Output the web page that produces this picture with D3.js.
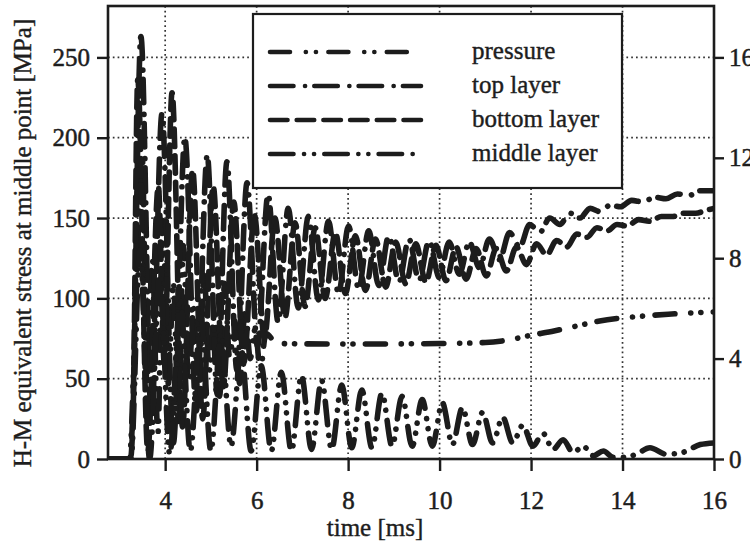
<!DOCTYPE html>
<html>
<head>
<meta charset="utf-8">
<script src="https://cdn.jsdelivr.net/npm/d3@7"></script>
<style>
  html, body { margin: 0; padding: 0; background: #fff; }
  svg { display: block; }
  text { font-family: "Liberation Serif", "Times New Roman", serif; fill: #1e1e1e; }
</style>
</head>
<body>
<svg id="chart" width="750" height="545"></svg>
<script>
// ---------- data ----------
const xTicks = [4, 6, 8, 10, 12, 14, 16];
const yLeftTicks = [0, 50, 100, 150, 200, 250];
const yRightTicks = [0, 4, 8, 12, 16];
const seriesNames = ["pressure", "top layer", "bottom layer", "middle layer"];

// pressure, right axis units
const pressure = [[2.75,0],[3.22,0],[3.32,4],[3.5,12],[3.6,3],[3.72,8],[3.84,1],[3.95,9.5],[4.07,3],[4.18,7],[4.29,1.5],[4.4,8.5],[4.51,3],[4.62,6],[4.73,2],[4.85,7.5],[4.96,3.5],[5.08,6],[5.19,2.5],[5.3,7],[5.41,4],[5.52,5.5],[5.63,3],[5.75,6],[5.86,4],[5.97,5.2],[6.08,3.5],[6.2,5],[6.45,4.6],[8,4.58],[10,4.6],[11,4.64],[11.5,4.74],[12,4.93],[12.5,5.1],[13,5.3],[13.5,5.5],[14,5.62],[14.5,5.7],[15,5.77],[15.5,5.82],[16,5.86]];

// stresses, left axis [MPa]
const topLayer = [[2.75,0],[3.22,0],[3.28,20],[3.47,263],[3.7,25],[3.93,215],[4.18,10],[4.43,200],[4.68,30],[4.92,189],[5.14,40],[5.35,185],[5.57,55],[5.79,172],[6.02,70],[6.25,165],[6.47,85],[6.69,156],[6.91,94],[7.13,151],[7.35,99],[7.57,148],[7.79,103],[8.01,145],[8.23,106],[8.45,142],[8.67,108],[8.89,139],[9.11,110],[9.33,137],[9.55,111],[9.77,136],[9.99,113],[10.21,135],[10.43,115],[10.65,135],[10.87,119],[11.09,137],[11.31,124],[11.53,141],[11.75,132],[11.97,146],[12.19,141],[12.41,150],[12.63,146],[12.85,153],[13.07,150],[13.29,156],[13.51,154],[13.73,158],[13.95,157],[14.2,161],[14.45,160],[14.7,163],[14.95,162],[15.2,165],[15.45,164],[15.7,167],[16,167]];

const bottomLayer = [[2.75,0],[3.24,0],[3.3,30],[3.4,236],[3.62,5],[3.85,170],[3.98,60],[4.15,228],[4.38,20],[4.6,180],[4.82,25],[5.05,170],[5.27,45],[5.5,160],[5.72,60],[5.95,152],[6.17,75],[6.4,150],[6.62,88],[6.84,147],[7.06,95],[7.28,144],[7.5,100],[7.72,141],[7.94,103],[8.16,139],[8.38,105],[8.6,137],[8.82,107],[9.04,135],[9.26,109],[9.48,134],[9.7,110],[9.92,133],[10.14,111],[10.36,132],[10.58,112],[10.8,131],[11.02,114],[11.24,131],[11.46,117],[11.68,132],[11.9,121],[12.12,134],[12.34,127],[12.56,136],[12.78,132],[13.0,140],[13.22,138],[13.44,144],[13.66,142],[13.88,146],[14.1,145],[14.35,149],[14.6,148],[14.85,151],[15.1,151],[15.35,153],[15.6,153],[15.85,155],[16,156]];

const middleLayer = [[2.75,0],[3.25,0],[3.45,130],[3.66,0],[3.88,115],[4.1,3],[4.33,100],[4.55,5],[4.78,88],[5.0,5],[5.22,78],[5.44,8],[5.66,68],[5.88,5],[6.1,58],[6.32,5],[6.54,54],[6.76,5],[6.98,52],[7.2,6],[7.42,49],[7.64,6],[7.86,46],[8.08,7],[8.3,43],[8.52,7],[8.74,41],[8.96,8],[9.18,39],[9.4,8],[9.62,37],[9.84,8],[10.06,35],[10.28,9],[10.5,32],[10.72,9],[10.94,29],[11.16,10],[11.38,26],[11.6,10],[11.82,21],[12.04,8],[12.26,16],[12.48,6],[12.7,12],[12.92,4],[13.14,8],[13.36,2],[13.58,5],[13.8,1],[14.05,1],[14.3,3],[14.6,7],[14.95,3],[15.3,4],[15.7,9],[16,10]];

// ---------- layout ----------
const svg = d3.select("#chart");
const L = 108, R = 714, T = 6, B = 459;
const ink = "#1c1c1c";

const x = d3.scaleLinear().domain([2.75, 16]).range([L, R]);
const yL = d3.scaleLinear().domain([0, 282]).range([B, T]);
const yR = d3.scaleLinear().domain([0, 282 * 16 / 250]).range([B, T]);

svg.append("rect").attr("width", 750).attr("height", 545).attr("fill", "#fff");

svg.append("defs").append("clipPath").attr("id", "plotclip")
  .append("rect").attr("x", L).attr("y", T).attr("width", R - L).attr("height", B - T);

// grid
const grid = svg.append("g").attr("stroke", "#333").attr("stroke-width", 1.7)
  .attr("stroke-dasharray", "1.7,3.1");
grid.selectAll("line.h").data(yLeftTicks.filter(d => d > 0)).join("line")
  .attr("x1", L).attr("x2", R).attr("y1", d => yL(d)).attr("y2", d => yL(d));
grid.selectAll("line.v").data(xTicks.filter(d => d < 16)).join("line")
  .attr("y1", T).attr("y2", B).attr("x1", d => x(d)).attr("x2", d => x(d));

// series
const line = (ys) => d3.line().x(d => x(d[0])).y(d => ys(d[1])).curve(d3.curveMonotoneX);
const styles = {
  "pressure":     { data: pressure,    scale: yR, dash: "20,15.8,0.1,10,0.1,12.4" },
  "top layer":    { data: topLayer,    scale: yL, dash: "23.5,11.5,0.1,9.2" },
  "bottom layer": { data: bottomLayer, scale: yL, dash: "17.5,9.2" },
  "middle layer": { data: middleLayer, scale: yL, dash: "23.5,10.5,0.1,9.9,0.1,10.2" }
};
const plot = svg.append("g").attr("clip-path", "url(#plotclip)");
seriesNames.forEach(name => {
  const s = styles[name];
  plot.append("path").datum(s.data)
    .attr("fill", "none").attr("stroke", ink).attr("stroke-width", 5.6)
    .attr("stroke-linecap", "round").attr("stroke-linejoin", "round")
    .attr("stroke-dasharray", s.dash)
    .attr("d", line(s.scale));
});

// axes
const axL = svg.append("g").attr("transform", `translate(${L},0)`)
  .call(d3.axisLeft(yL).tickValues(yLeftTicks).tickSize(11).tickPadding(7));
const axB = svg.append("g").attr("transform", `translate(0,${B})`)
  .call(d3.axisBottom(x).tickValues(xTicks).tickSize(12).tickPadding(20));
const axR = svg.append("g").attr("transform", `translate(${R},0)`)
  .call(d3.axisRight(yR).tickValues(yRightTicks).tickSize(10).tickPadding(5));
[axL, axB, axR].forEach(a => {
  a.select(".domain").remove();
  a.selectAll(".tick line").attr("stroke", ink).attr("stroke-width", 2.4);
  a.selectAll(".tick text").attr("font-size", 25).attr("fill", ink)
    .attr("stroke", ink).attr("stroke-width", 0.5)
    .attr("font-family", "Liberation Serif");
});

// frame
svg.append("rect").attr("x", L).attr("y", T).attr("width", R - L).attr("height", B - T)
  .attr("fill", "none").attr("stroke", ink).attr("stroke-width", 2.6);

// titles
svg.append("text").attr("x", 375).attr("y", 536).attr("text-anchor", "middle")
  .attr("font-size", 25).attr("stroke", ink).attr("stroke-width", 0.4).text("time [ms]");
svg.append("text").attr("transform", "translate(31,243) rotate(-90)")
  .attr("text-anchor", "middle").attr("font-size", 25)
  .attr("stroke", ink).attr("stroke-width", 0.4)
  .text("H-M equivalent stress at middle point [MPa]");

// legend
const lg = svg.append("g");
lg.append("rect").attr("x", 253).attr("y", 14).attr("width", 369).attr("height", 174)
  .attr("fill", "#fff").attr("stroke", ink).attr("stroke-width", 2.2);
const rowY = d3.scalePoint().domain(seriesNames).range([52, 154]);
seriesNames.forEach(name => {
  const yy = rowY(name);
  lg.append("line").attr("x1", 270).attr("x2", 421).attr("y1", yy).attr("y2", yy)
    .attr("stroke", ink).attr("stroke-width", 4.6).attr("stroke-linecap", "round")
    .attr("stroke-dasharray", styles[name].dash);
  lg.append("text").attr("x", 472).attr("y", yy + 6.5).attr("font-size", 25)
    .attr("stroke", ink).attr("stroke-width", 0.4).text(name);
});
</script>
</body>
</html>
